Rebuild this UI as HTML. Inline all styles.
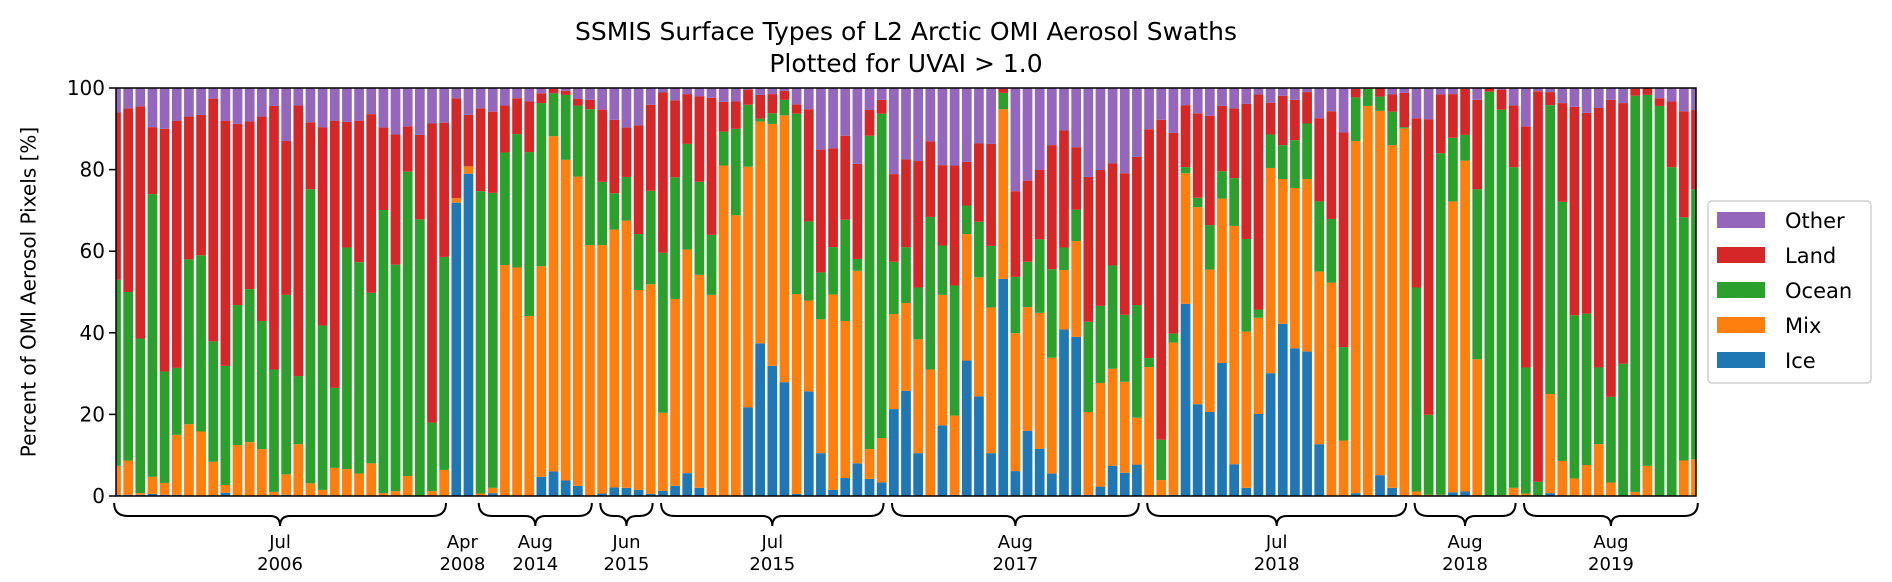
<!DOCTYPE html>
<html><head><meta charset="utf-8"><style>
html,body{margin:0;padding:0;background:#fff}
svg{display:block;font-family:"DejaVu Sans","Liberation Sans",sans-serif}
</style></head><body>
<svg id="chart" width="1892" height="582" viewBox="0 0 1892 582" xmlns="http://www.w3.org/2000/svg">
<defs><clipPath id="plotclip"><rect x="116" y="88" width="1580" height="408"/></clipPath></defs>
<text x="906" y="40" font-size="25" text-anchor="middle">SSMIS Surface Types of L2 Arctic OMI Aerosol Swaths</text>
<text x="906" y="72" font-size="25" text-anchor="middle">Plotted for UVAI &gt; 1.0</text>
<g id="bars" clip-path="url(#plotclip)"></g>
<rect x="116" y="88" width="1580" height="408" fill="none" stroke="#000" stroke-width="1.5"/>
<g id="yaxis"></g>
<text transform="translate(30,292) rotate(-90)" font-size="20" text-anchor="middle" dominant-baseline="middle">Percent of OMI Aerosol Pixels [%]</text>
<g id="groups"></g>
<g>
<rect x="1708" y="201" width="163" height="182" rx="4" fill="#fff" stroke="#d0d0d0" stroke-width="1.5"/>
<rect x="1717" y="212" width="48" height="16" fill="#9467bd"/>
<text x="1785" y="228" font-size="21">Other</text>
<rect x="1717" y="247" width="48" height="16" fill="#d62728"/>
<text x="1785" y="263" font-size="21">Land</text>
<rect x="1717" y="282" width="48" height="16" fill="#2ca02c"/>
<text x="1785" y="298" font-size="21">Ocean</text>
<rect x="1717" y="317" width="48" height="16" fill="#ff7f0e"/>
<text x="1785" y="333" font-size="21">Mix</text>
<rect x="1717" y="352" width="48" height="16" fill="#1f77b4"/>
<text x="1785" y="368" font-size="21">Ice</text>
</g>
</svg>
<script>
const ice = [0.3,0.3,0.3,0.5,0.3,0.3,0,0,0,0.8,0,0,0,0,0.3,0,0,0,0,0,0,0,0,0,0,0,0,0,71.9,79,0,0.7,0,0,0,4.7,6,3.8,2.5,0,0.6,2.1,2,1.5,0.5,1.3,2.5,5.6,2,0,0,0,21.7,37.4,31.9,27.9,0.5,25.6,10.5,1.5,4.4,8,4.2,3.3,21.3,25.8,10.5,0,17.3,0.3,33.2,24.4,10.5,53.2,6.1,16,11.6,5.5,40.8,39,0.3,2.3,7.4,5.7,7.7,0,0,0.3,47.1,22.5,20.6,32.6,7.8,2,20.1,30.1,42.2,36.2,35.4,12.7,0,0,0.7,0,5.1,2,0,0,0,0.2,0.9,1.1,0,0,0,0,0,0,0.7,0,0,0,0,0,0,0,0,0,0,0,0];
const mix = [7.1,8.4,0.4,4.2,2.9,14.7,17.6,15.8,8.4,1.9,12.5,13.2,11.5,1,5,12.7,3.1,1.5,6.9,6.6,5.5,8,0.7,1.2,4.9,0,1.2,6.4,1.1,1.8,0.6,1.3,56.6,56,44.1,51.6,82.2,78.6,75.8,61.5,60.9,63.2,65.5,49,51.4,19.1,45.8,54.8,52.2,49.3,81,68.8,59,54.4,59.3,65.4,49,22.3,32.8,47.9,38.5,47.2,7.3,10.9,23.3,21.5,27.9,31,32,19.4,31,29.2,35.7,41.6,33.8,30.3,33.3,28.4,14.6,23.5,20.3,25.4,23.8,22.3,11.5,31.6,3.9,37.3,32,48.3,34.9,40.3,58.4,38.3,23.6,50.3,35.5,39.3,42.3,42.3,52.3,13.6,86.3,95.6,89.3,84,90.1,1.1,0.3,0.1,71.3,81.1,33.5,0,0.2,2,0.6,0,24.3,8.6,4.3,7.6,12.7,3.3,0,1,7.4,0,0,8.7,9];
const ocean = [45.6,41.3,37.9,69.3,27.3,16.4,40.4,43.2,29.5,29.2,34.3,37.5,31.4,30,44,16.7,72.1,40.3,19.6,54.3,51.8,41.8,69.4,55.5,74.6,67.8,16.8,52.2,0,0,74.1,72.3,27.6,32.7,40.2,40,10.5,15.9,17.4,33.3,15.5,8.9,10.7,13.7,22.9,39.2,29.8,25.9,22.8,14.7,8.3,21.2,15.2,0.7,2.6,3.8,44.2,19.4,11.5,11.6,24.8,2.9,76.8,79.5,12.8,13.7,12.7,37.4,12.1,31.9,7,13.6,15.1,4,13.8,11.1,18,21.7,5.5,7.7,22.1,18.9,25.3,16.4,27.6,2.2,9.9,2.2,1.5,2.3,10.9,6.7,11.7,22.7,2,8.2,8.3,11.7,13.6,17.2,15.6,22.9,10.7,4.2,3.5,8.2,0.3,50,19.6,83.7,15.6,6.3,41.7,99.1,94.5,78.6,30.9,3.5,70.8,63.5,40,37.1,18.8,21,32.4,97.1,90.9,95.6,80.6,59.6,66.2];
const land = [41,45,56.9,16.4,59.5,60.6,35,34.4,59.5,60.1,44.4,41.1,50.1,64.6,37.7,66.3,16.4,48.6,65.5,30.8,34.7,43.8,20.2,31.9,11.1,20.7,73.3,32.9,24.5,12.6,20.3,19.9,11.5,8.8,12.4,2.4,1.1,1,1.6,2.3,17.7,18,12.1,26.6,21.1,39.3,18.9,12.2,21,33.6,7.3,6.7,3.7,5.8,4.7,2.2,2.3,27.5,30.1,24.2,20.6,23.3,6.3,3.4,21.5,21.5,31,18.5,19.7,29.4,10.7,19.2,25,1,21,19.9,17,30.4,28.7,15.3,35.5,33.3,25,34.7,36.3,56.1,78.4,49.2,15.2,20.7,26.8,16,17.1,33.1,52.7,7.8,12.1,9.9,7.7,20.4,26.4,52.6,2.1,0.2,2.1,4.2,8.4,41.5,72.4,14.4,10.7,11.3,21.9,0.9,4.9,15.1,59.1,95.7,3.2,24.2,51.1,49.2,63.6,72.8,63.9,1.7,1.7,1.9,16.1,26,19.4];
const groupMonths = ["Jul","Apr","Aug","Jun","Jul","Aug","Jul","Aug","Aug"];
const groupYears = ["2006","2008","2014","2015","2015","2017","2018","2018","2019"];
const groupStart = [0,28,30,40,45,64,85,107,116];
const groupEnd = [27,29,39,44,63,84,106,115,130];
const groupBrace = [true,false,true,true,true,true,true,true,true];
const yTicks = [0,20,40,60,80,100];

const NS = "http://www.w3.org/2000/svg";
const X0 = 116, X1 = 1696, Y0 = 496, Y1 = 88;
const nBars = ice.length;
const pitch = (X1 - X0) / (nBars - 1);
function xC(i){ return X0 + i * pitch; }
function yS(v){ return Y0 - v / 100 * (Y0 - Y1); }
const colors = {ice:"#1f77b4",mix:"#ff7f0e",ocean:"#2ca02c",land:"#d62728",other:"#9467bd"};
const barsG = document.getElementById("bars");
for (let i = 0; i < nBars; i++) {
  const other = Math.max(0, 100 - ice[i] - mix[i] - ocean[i] - land[i]);
  const segs = [["ice", ice[i]], ["mix", mix[i]], ["ocean", ocean[i]], ["land", land[i]], ["other", other]];
  let base = 0;
  for (const s of segs) {
    if (s[1] <= 0) continue;
    const r = document.createElementNS(NS, "rect");
    r.setAttribute("x", xC(i) - 0.4 * pitch);
    r.setAttribute("width", 0.8 * pitch);
    r.setAttribute("y", yS(base + s[1]));
    r.setAttribute("height", yS(base) - yS(base + s[1]));
    r.setAttribute("fill", colors[s[0]]);
    
    
    barsG.appendChild(r);
    base += s[1];
  }
}
const yG = document.getElementById("yaxis");
for (const t of yTicks) {
  const l = document.createElementNS(NS, "line");
  l.setAttribute("x1", X0 - 7); l.setAttribute("x2", X0);
  l.setAttribute("y1", yS(t)); l.setAttribute("y2", yS(t));
  l.setAttribute("stroke", "#000"); l.setAttribute("stroke-width", "1.5");
  
  
  yG.appendChild(l);
  const tx = document.createElementNS(NS, "text");
  tx.setAttribute("x", X0 - 11); tx.setAttribute("y", yS(t) + 7);
  tx.setAttribute("font-size", "20"); tx.setAttribute("text-anchor", "end");
  tx.textContent = t;
  
  
  yG.appendChild(tx);
}
const gG = document.getElementById("groups");
for (let g = 0; g < groupMonths.length; g++) {
  const a = xC(groupStart[g]) - 0.4 * pitch + 3;
  const b = Math.min(xC(groupEnd[g]) + 0.4 * pitch - 3, X1 + 2);
  const m = (xC(groupStart[g]) + xC(groupEnd[g])) / 2;
  if (groupBrace[g]) {
    const p = document.createElementNS(NS, "path");
    p.setAttribute("d", `M${a},503 Q${a},516 ${a+14},516 L${m-10},516 Q${m},516 ${m},526 Q${m},516 ${m+10},516 L${b-14},516 Q${b},516 ${b},503`);
    p.setAttribute("fill", "none"); p.setAttribute("stroke", "#000"); p.setAttribute("stroke-width", "2");
    
    
    gG.appendChild(p);
  }
  const t1 = document.createElementNS(NS, "text");
  t1.setAttribute("x", m); t1.setAttribute("y", 548);
  t1.setAttribute("font-size", "18"); t1.setAttribute("text-anchor", "middle");
  t1.textContent = groupMonths[g];
  
  
  gG.appendChild(t1);
  const t2 = document.createElementNS(NS, "text");
  t2.setAttribute("x", m); t2.setAttribute("y", 570);
  t2.setAttribute("font-size", "18"); t2.setAttribute("text-anchor", "middle");
  t2.textContent = groupYears[g];
  
  
  gG.appendChild(t2);
}
</script>
</body></html>
